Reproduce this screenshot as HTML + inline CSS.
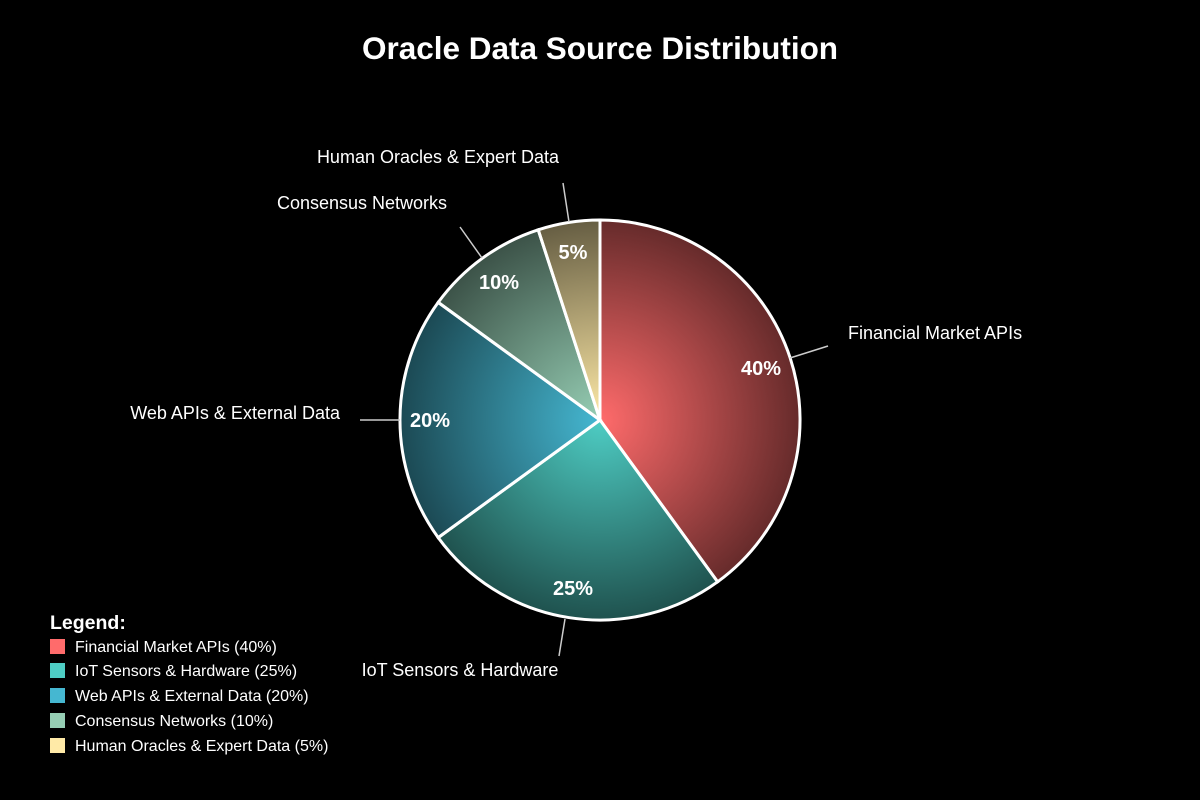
<!DOCTYPE html>
<html><head><meta charset="utf-8"><style>
body{margin:0;background:#000;width:1200px;height:800px;overflow:hidden}
svg{display:block}
text{font-family:"Liberation Sans",Arial,sans-serif;fill:#fff}
</style></head><body>
<svg width="1200" height="800" viewBox="0 0 1200 800">
<defs>
<radialGradient id="g0" gradientUnits="userSpaceOnUse" cx="600" cy="420" r="200"><stop offset="0" stop-color="#ff6b6b"/><stop offset="1" stop-color="#ff6b6b" stop-opacity="0.4"/></radialGradient>
<radialGradient id="g1" gradientUnits="userSpaceOnUse" cx="600" cy="420" r="200"><stop offset="0" stop-color="#4ecdc4"/><stop offset="1" stop-color="#4ecdc4" stop-opacity="0.4"/></radialGradient>
<radialGradient id="g2" gradientUnits="userSpaceOnUse" cx="600" cy="420" r="200"><stop offset="0" stop-color="#45b7d1"/><stop offset="1" stop-color="#45b7d1" stop-opacity="0.4"/></radialGradient>
<radialGradient id="g3" gradientUnits="userSpaceOnUse" cx="600" cy="420" r="200"><stop offset="0" stop-color="#96ceb4"/><stop offset="1" stop-color="#96ceb4" stop-opacity="0.4"/></radialGradient>
<radialGradient id="g4" gradientUnits="userSpaceOnUse" cx="600" cy="420" r="200"><stop offset="0" stop-color="#ffeaa7"/><stop offset="1" stop-color="#ffeaa7" stop-opacity="0.4"/></radialGradient>
</defs>
<text x="600" y="59" text-anchor="middle" font-size="31.5" font-weight="bold">Oracle Data Source Distribution</text>
<g stroke="#fff" stroke-width="3">
<path d="M600,420 L600,220 A200,200 0 0 1 717.6,581.8 Z" fill="url(#g0)"/>
<path d="M600,420 L717.6,581.8 A200,200 0 0 1 438.2,537.6 Z" fill="url(#g1)"/>
<path d="M600,420 L438.2,537.6 A200,200 0 0 1 438.2,302.4 Z" fill="url(#g2)"/>
<path d="M600,420 L438.2,302.4 A200,200 0 0 1 538.2,229.8 Z" fill="url(#g3)"/>
<path d="M600,420 L538.2,229.8 A200,200 0 0 1 600,220 Z" fill="url(#g4)"/>
</g>
<g font-size="20" font-weight="bold" text-anchor="middle">
<text x="761" y="375">40%</text>
<text x="573" y="595">25%</text>
<text x="430" y="427">20%</text>
<text x="499" y="289">10%</text>
<text x="573" y="259">5%</text>
</g>
<g stroke="#ccc" stroke-width="1.5">
<line x1="790" y1="358" x2="828" y2="346"/>
<line x1="565" y1="619" x2="559" y2="656"/>
<line x1="400" y1="420" x2="360" y2="420"/>
<line x1="482" y1="258" x2="460" y2="227"/>
<line x1="569" y1="222" x2="563" y2="183"/>
</g>
<g font-size="18">
<text x="848" y="339">Financial Market APIs</text>
<text x="460" y="676" text-anchor="middle">IoT Sensors &amp; Hardware</text>
<text x="340" y="419" text-anchor="end">Web APIs &amp; External Data</text>
<text x="362" y="209" text-anchor="middle">Consensus Networks</text>
<text x="438" y="163" text-anchor="middle">Human Oracles &amp; Expert Data</text>
</g>
<text x="50" y="629" font-size="19.5" font-weight="bold">Legend:</text>
<g font-size="16">
<rect x="50" y="639" width="15" height="15" fill="#ff6b6b"/><text x="75" y="652">Financial Market APIs (40%)</text>
<rect x="50" y="663" width="15" height="15" fill="#4ecdc4"/><text x="75" y="676">IoT Sensors &amp; Hardware (25%)</text>
<rect x="50" y="688" width="15" height="15" fill="#45b7d1"/><text x="75" y="701">Web APIs &amp; External Data (20%)</text>
<rect x="50" y="713" width="15" height="15" fill="#96ceb4"/><text x="75" y="726">Consensus Networks (10%)</text>
<rect x="50" y="738" width="15" height="15" fill="#ffeaa7"/><text x="75" y="751">Human Oracles &amp; Expert Data (5%)</text>
</g>
</svg>
</body></html>
